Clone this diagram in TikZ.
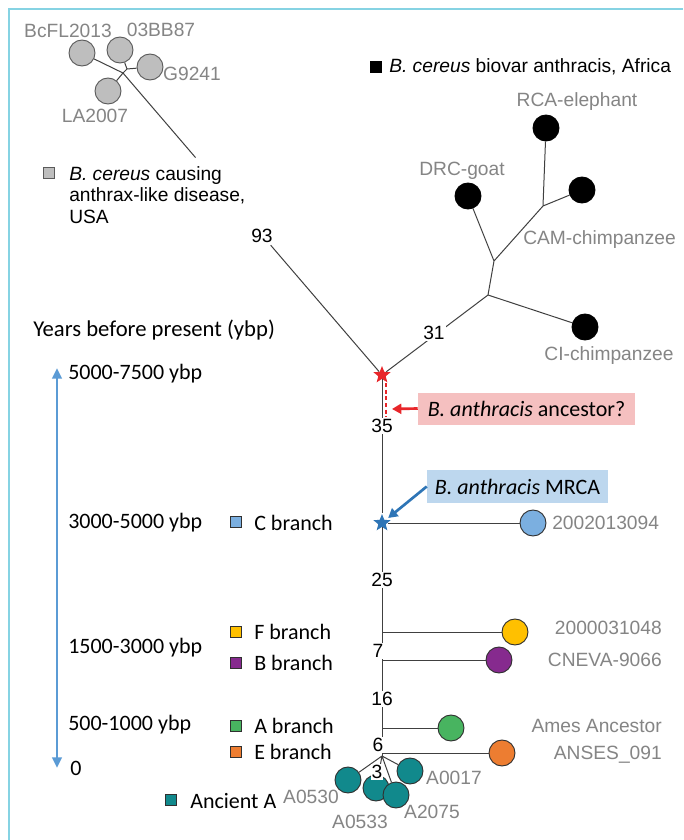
\documentclass[tikz,border=0pt]{standalone}
\usepackage{fontspec}
\setmainfont{Liberation Sans}
\newfontfamily\calib{Carlito}
\usetikzlibrary{shapes.geometric,arrows.meta,calc}
\definecolor{framec}{HTML}{86D3E3}
\definecolor{treec}{HTML}{404040}
\definecolor{labgray}{HTML}{858585}
\definecolor{cgray}{HTML}{BEBEBE}
\definecolor{gedge}{HTML}{5A5A5A}
\definecolor{leafedge}{HTML}{303030}
\definecolor{redstar}{HTML}{E8262A}
\definecolor{bluestar}{HTML}{2E75B6}
\definecolor{pinkbox}{HTML}{F5C0C0}
\definecolor{bluebox}{HTML}{BDD7EE}
\definecolor{axisblue}{HTML}{5B9BD5}
\definecolor{cC}{HTML}{7BAFE0}
\definecolor{cF}{HTML}{FFC000}
\definecolor{cB}{HTML}{862A8E}
\definecolor{cA}{HTML}{48B460}
\definecolor{cE}{HTML}{ED7D31}
\definecolor{cAA}{HTML}{11898C}
\newcommand\fsA{\fontsize{14.4}{16.1}\selectfont}
\newcommand\fsC{\calib\fontsize{16.5}{19}\selectfont}
\pgfdeclarelayer{bg}
\pgfsetlayers{bg,main}
\begin{document}
\begin{tikzpicture}[x=0.75pt,y=-0.75pt,
  tl/.style={draw=treec, line width=0.75pt},
  glab/.style={text=labgray, font=\fsA, inner sep=0pt},
  num/.style={font=\fsA, fill=white, inner sep=1.2pt},
  cal/.style={font=\fsC, anchor=west, inner sep=0pt},
  leaf/.style={circle, minimum size=19.5pt, inner sep=0pt, draw=leafedge, line width=0.7pt, fill=#1},
  sq/.style={rectangle, minimum size=8.25pt, inner sep=0pt, draw=leafedge, line width=0.5pt, fill=#1},
  starn/.style={star, star points=5, star point ratio=2.3, fill=#1, draw=none, minimum size=13.5pt, inner sep=0pt},
]
\useasboundingbox (0,0) rectangle (683,840);
\begin{pgfonlayer}{bg}
\fill[white] (0,0) rectangle (683,840);
\end{pgfonlayer}
\draw[framec, line width=1.5pt] (8.5,840) -- (8.5,8.5) -- (683,8.5);

% ---------- top-left B. cereus cluster ----------
\node[starn=redstar] (rstar) at (382,375) {};
\coordinate (J) at (123,73);
\coordinate (J2) at (127,69);
\node[leaf=cgray, draw=gedge] (bcfl) at (82,53) {};
\node[leaf=cgray, draw=gedge] (bb87) at (120,50) {};
\node[leaf=cgray, draw=gedge] (g92) at (150,67) {};
\node[leaf=cgray, draw=gedge] (la07) at (108,91) {};
\coordinate (g1) at ($(J)!0.28!(rstar)$);
\coordinate (g2) at ($(J)!0.57!(rstar)$);
\draw[tl] (bcfl) -- (J) (la07) -- (J) (J) -- (J2) (J2) -- (bb87) (J2) -- (g92) (J) -- (g1) (g2) -- (rstar);
\node[glab] (lbcfl) at (68,31) {BcFL2013};
\node[glab] (lbb87) at (161,30) {03BB87};
\node[glab] (lg92) at (192,74) {G9241};
\node[glab] (lla07) at (95,116) {LA2007};
\node[sq=cgray, draw=gedge] (sqg) at (49,172.5) {};
\node[anchor=west, font=\fsA, inner sep=0pt, align=left] (legg) at (69,195) {\textit{B. cereus} causing\\anthrax-like disease,\\USA};
\node[num] (n93) at (262,236) {93};

% ---------- top-right Africa cluster ----------
\node[sq=black, draw=black] (sqb) at (375.5,66.5) {};
\node[anchor=west, font=\fsA, inner sep=0pt] (legb) at (389,66.5) {\textit{B. cereus} biovar anthracis, Africa};
\node[leaf=black, draw=black] (rca) at (546,128) {};
\node[leaf=black, draw=black] (cam) at (582,190) {};
\node[leaf=black, draw=black] (drc) at (468,196) {};
\node[leaf=black, draw=black] (ci) at (585,327) {};
\coordinate (n1) at (543,206);
\coordinate (n2) at (494,261);
\coordinate (n3) at (488,295);
\draw[tl] (rca) -- (n1) (cam) -- (n1) (n1) -- (n2) (drc) -- (n2) (n2) -- (n3) (n3) -- (ci) (n3) -- (rstar);
\node[glab] (lrca) at (577,102) {RCA-elephant};
\node[glab] (ldrc) at (462,171) {DRC-goat};
\node[glab, anchor=west] (lcam) at (523,240) {CAM-chimpanzee};
\node[glab] (lci) at (609,356) {CI-chimpanzee};
\node[num] (n31) at (434,333) {31};

% ---------- B. anthracis trunk ----------
\node[starn=bluestar] (bstar) at (382,523) {};
\coordinate (jF) at (382,632);
\coordinate (jB) at (382,660);
\coordinate (jA) at (382,728);
\coordinate (jE) at (382,753);
\coordinate (jAA) at (382,756);
\node[leaf=cC] (lfC) at (533,523) {};
\node[leaf=cF] (lfF) at (515,632) {};
\node[leaf=cB] (lfB) at (499,660) {};
\node[leaf=cA] (lfA) at (451,728) {};
\node[leaf=cE] (lfE) at (502,753) {};
\draw[tl] (rstar) -- (bstar) (bstar) -- (jAA);
\draw[tl] (bstar) -- (lfC) (jF) -- (lfF) (jB) -- (lfB) (jA) -- (lfA) (jE) -- (lfE);
% ancient A
\node[leaf=cAA] (a0530) at (348,780) {};
\node[leaf=cAA] (a0533) at (376,788) {};
\node[leaf=cAA] (a2075) at (396,795) {};
\node[leaf=cAA] (a0017) at (410,771) {};
\begin{pgfonlayer}{bg}
\draw[tl] (jAA) -- (a0530) (jAA) -- (a0533) (jAA) -- (a2075) (jAA) -- (a0017);
\end{pgfonlayer}

\node[num] (n35) at (382,426) {35};
\node[num] (n25) at (382,580) {25};
\node[num] (n7) at (378,651) {7};
\node[num] (n16) at (382,699) {16};
\node[num] (n6) at (378,745) {6};
\node[num, inner sep=0.8pt] (n3l) at (377,772) {3};

\node[glab, anchor=west] (l2002) at (552,523) {2002013094};
\node[glab, anchor=east] (l2000) at (662,628) {2000031048};
\node[glab, anchor=east] (lcnev) at (662,660) {CNEVA-9066};
\node[glab, anchor=east] (lames) at (662,726) {Ames Ancestor};
\node[glab, anchor=east] (lanse) at (662,755) {ANSES\_091};
\node[glab] (la0017) at (454,778) {A0017};
\node[glab] (la2075) at (432,812) {A2075};
\node[glab] (la0533) at (360,822) {A0533};
\node[glab] (la0530) at (311,797) {A0530};

% ancestor / MRCA call-outs
\coordinate (dtop) at (386,383);
\coordinate (dbot) at (386,417);
\draw[redstar, line width=1pt, dash pattern=on 3pt off 2pt] (dtop) -- (dbot);
\node[fill=pinkbox, minimum width=162.75pt, minimum height=24pt, font=\fsC, inner sep=0pt] (anc) at (526.5,408.5) {\textit{B. anthracis} ancestor?};
\coordinate (ra) at (392,409);
\draw[redstar, line width=2pt, -{Triangle[length=7pt,width=7.5pt]}] (anc.west) -- (ra);
\node[fill=bluebox, minimum width=135.75pt, minimum height=24.75pt, font=\fsC, inner sep=0pt] (mrca) at (517.5,486.5) {\textit{B. anthracis} MRCA};
\draw[bluestar, line width=2pt, shorten >=2pt, -{Triangle[length=7pt,width=7.5pt]}] (mrca.west) -- (bstar);

% ---------- time axis ----------
\node[cal, font=\calib\fontsize{17}{19}\selectfont] (years) at (33,330) {Years before present (ybp)};
\coordinate (axtop) at (57,368);
\coordinate (axbot) at (57,768);
\draw[axisblue, line width=2.2pt, {Triangle[length=8pt,width=7pt]}-{Triangle[length=8pt,width=7pt]}] (axbot) -- (axtop);
\node[cal] (t1) at (68,374) {5000-7500 ybp};
\node[cal] (t2) at (68,523) {3000-5000 ybp};
\node[cal] (t3) at (68,648) {1500-3000 ybp};
\node[cal] (t4) at (68,725) {500-1000 ybp};
\node[cal] (t5) at (70,768) {0};

% branch legend
\node[sq=cC] (sqC) at (235.5,522) {};
\node[sq=cF] (sqF) at (235.5,632) {};
\node[sq=cB] (sqB) at (235.5,663) {};
\node[sq=cA] (sqA) at (235.5,726) {};
\node[sq=cE] (sqE) at (235.5,752) {};
\node[sq=cAA] (sqAA) at (170.5,800) {};
\node[cal] (bC) at (254,523) {C branch};
\node[cal] (bF) at (254,632) {F branch};
\node[cal] (bB) at (254,663) {B branch};
\node[cal] (bA) at (254,726) {A branch};
\node[cal] (bE) at (254,752) {E branch};
\node[cal] (bAA) at (190,801) {Ancient A};
\end{tikzpicture}
\end{document}
